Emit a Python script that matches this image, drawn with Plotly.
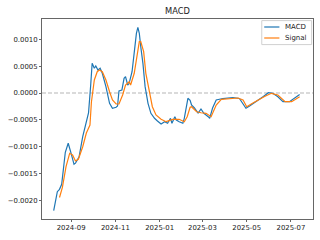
import plotly.graph_objects as go

macd_dates = [
    "2024-08-08", "2024-08-13", "2024-08-16", "2024-08-19", "2024-08-24", "2024-08-28",
    "2024-09-01", "2024-09-05", "2024-09-07", "2024-09-12", "2024-09-17", "2024-09-23",
    "2024-09-25", "2024-09-28", "2024-09-30", "2024-10-03", "2024-10-05", "2024-10-08",
    "2024-10-11", "2024-10-14", "2024-10-19", "2024-10-24", "2024-10-28", "2024-11-02",
    "2024-11-04", "2024-11-06", "2024-11-10", "2024-11-13", "2024-11-15", "2024-11-18",
    "2024-11-20", "2024-11-24", "2024-11-27", "2024-11-30", "2024-12-02", "2024-12-04",
    "2024-12-06", "2024-12-09", "2024-12-12", "2024-12-16", "2024-12-20", "2024-12-25",
    "2024-12-29", "2025-01-03", "2025-01-08", "2025-01-12", "2025-01-16", "2025-01-18",
    "2025-01-22", "2025-01-24", "2025-01-28", "2025-02-02", "2025-02-04", "2025-02-07",
    "2025-02-09", "2025-02-12", "2025-02-14", "2025-02-18", "2025-02-23", "2025-02-27",
    "2025-03-03", "2025-03-09", "2025-03-11", "2025-03-15", "2025-03-20", "2025-03-29",
    "2025-04-12", "2025-04-21", "2025-04-26", "2025-04-30", "2025-05-05", "2025-05-15",
    "2025-05-24", "2025-05-31", "2025-06-06", "2025-06-13", "2025-06-20", "2025-06-29",
    "2025-07-06", "2025-07-13",
]
macd_values = [
    -0.002196, -0.001841, -0.001797, -0.001703, -0.001106, -0.000938,
    -0.001125, -0.001330, -0.001310, -0.001190, -0.000815, -0.000504,
    -0.000373, 0.000149, 0.000554, 0.000461, 0.000504, 0.000429,
    0.000461, 0.000368, 0.000118, -0.000192, -0.000285, -0.000267,
    -0.000243, 0.000037, 0.000056, 0.000274, 0.000304, 0.000149,
    0.000181, 0.000397, 0.000802, 0.001114, 0.001226, 0.001114,
    0.000864, 0.000554, 0.000118, -0.000192, -0.000379, -0.000472,
    -0.000522, -0.000578, -0.000535, -0.000565, -0.000472, -0.000565,
    -0.000442, -0.000504, -0.000535, -0.000565, -0.000472, -0.000243,
    -0.000099, -0.000136, -0.000224, -0.000280, -0.000373, -0.000299,
    -0.000379, -0.000442, -0.000472, -0.000280, -0.000131, -0.000103,
    -0.000084, -0.000103, -0.000192, -0.000285, -0.000243, -0.000140,
    -0.000065, 0.000006, -0.000006, -0.000069, -0.000162, -0.000162,
    -0.000099, -0.000028,
]

signal_dates = [
    "2024-08-16", "2024-08-20", "2024-08-25", "2024-08-30", "2024-09-03", "2024-09-07",
    "2024-09-11", "2024-09-17", "2024-09-22", "2024-09-27", "2024-09-29", "2024-10-03",
    "2024-10-07", "2024-10-10", "2024-10-14", "2024-10-19", "2024-10-24", "2024-10-28",
    "2024-11-02", "2024-11-06", "2024-11-11", "2024-11-15", "2024-11-20", "2024-11-22",
    "2024-11-27", "2024-11-30", "2024-12-04", "2024-12-06", "2024-12-10", "2024-12-13",
    "2024-12-18", "2024-12-22", "2024-12-27", "2025-01-03", "2025-01-10", "2025-01-19",
    "2025-01-28", "2025-02-04", "2025-02-08", "2025-02-12", "2025-02-14", "2025-02-21",
    "2025-02-27", "2025-03-06", "2025-03-13", "2025-03-20", "2025-03-27", "2025-04-03",
    "2025-04-19", "2025-04-26", "2025-05-01", "2025-05-09", "2025-05-19", "2025-05-25",
    "2025-06-04", "2025-06-13", "2025-06-23", "2025-07-02", "2025-07-13",
]
signal_values = [
    -0.001950, -0.001760, -0.001375, -0.001125, -0.001157, -0.001269,
    -0.001237, -0.001002, -0.000746, -0.000597, -0.000168, 0.000243,
    0.000397, 0.000429, 0.000397, 0.000243, 0.000024, -0.000131,
    -0.000205, -0.000205, -0.000037, 0.000149, 0.000211, 0.000149,
    0.000368, 0.000647, 0.000957, 0.000957, 0.000771, 0.000368,
    -0.000019, -0.000256, -0.000410, -0.000491, -0.000535, -0.000491,
    -0.000491, -0.000535, -0.000442, -0.000267, -0.000256, -0.000349,
    -0.000368, -0.000379, -0.000442, -0.000224, -0.000118, -0.000112,
    -0.000093, -0.000131, -0.000256, -0.000192, -0.000112, -0.000069,
    -0.000006, -0.000037, -0.000162, -0.000162, -0.000069,
]

x_ticks = ["2024-09-01", "2024-11-01", "2025-01-01", "2025-03-01", "2025-05-01", "2025-07-01"]
y_ticks = [-0.0020, -0.0015, -0.0010, -0.0005, 0.0, 0.0005, 0.0010]
series_names = ["MACD", "Signal"]
colors = ["#1f77b4", "#ff7f0e"]

FONT = "DejaVu Sans"
fig = go.Figure()
fig.add_trace(go.Scatter(x=macd_dates, y=macd_values, mode="lines", name=series_names[0],
                         line=dict(color=colors[0], width=1.2), showlegend=False))
fig.add_trace(go.Scatter(x=signal_dates, y=signal_values, mode="lines", name=series_names[1],
                         line=dict(color=colors[1], width=1.2), showlegend=False))

fig.add_hline(y=0, line=dict(color="#b5b5b5", width=1, dash="4px,2px"), layer="below")

# custom compact legend (matplotlib style)
fig.add_shape(type="rect", xref="paper", yref="paper", x0=0.811, x1=0.995, y0=0.872, y1=0.992,
              line=dict(color="#d0d0d0", width=1), fillcolor="rgba(255,255,255,0.8)")
leg_y = [0.96, 0.905]
for name, c, yy in zip(series_names, colors, leg_y):
    fig.add_shape(type="line", xref="paper", yref="paper", x0=0.820, x1=0.876, y0=yy, y1=yy,
                  line=dict(color=c, width=1.2))
    fig.add_annotation(xref="paper", yref="paper", x=0.889, y=yy, text=name, showarrow=False,
                       xanchor="left", yanchor="middle", font=dict(family=FONT, size=7, color="#222"))

fig.update_layout(
    width=320, height=240,
    margin=dict(l=42, r=7, t=19, b=21),
    paper_bgcolor="white", plot_bgcolor="white",
    font=dict(family=FONT, size=7, color="#222"),
    title=dict(text="MACD", x=0.5 * (42 + 313) / 320, xanchor="center", y=1 - 11 / 240, yanchor="middle",
               font=dict(family=FONT, size=8.3, color="#222")),
)
fig.update_xaxes(
    type="date",
    range=["2024-07-22T21:00:00", "2025-07-31T10:00:00"],
    tickvals=x_ticks, tickformat="%Y-%m",
    showgrid=False, zeroline=False,
    showline=True, mirror=True, linecolor="#666", linewidth=1,
    ticks="outside", ticklen=2, tickcolor="#666", tickwidth=1,
    tickfont=dict(family=FONT, size=6.9, color="#222"),
)
fig.update_yaxes(
    range=[-0.002351, 0.001381],
    tickvals=y_ticks, tickformat=".4f",
    showgrid=False, zeroline=False,
    showline=True, mirror=True, linecolor="#666", linewidth=1,
    ticks="outside", ticklen=2, tickcolor="#666", tickwidth=1,
    tickfont=dict(family=FONT, size=6.9, color="#222"),
)

fig.write_html("out.html")
